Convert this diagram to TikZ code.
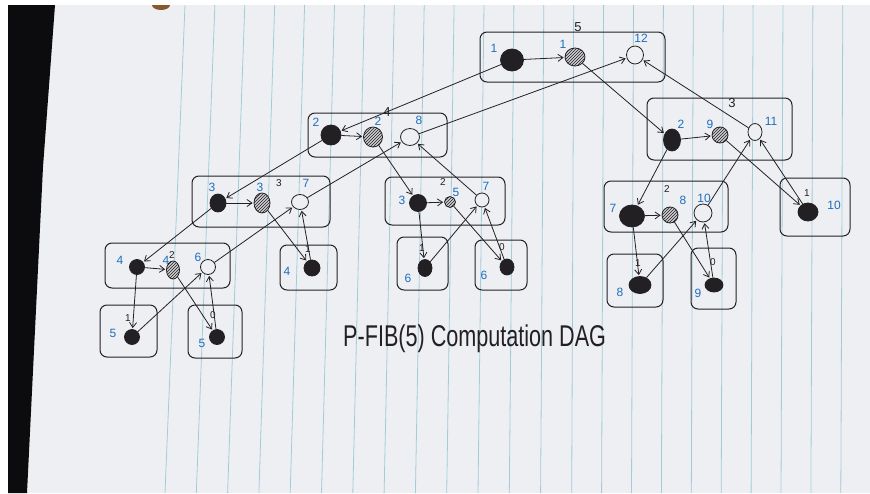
\documentclass[tikz,border=0pt]{standalone}
\usepackage{fontspec}
\newfontfamily\hand{Liberation Sans}
\usetikzlibrary{arrows.meta,patterns,shapes.geometric}
\definecolor{inkc}{RGB}{35,32,35}
\definecolor{bluec}{RGB}{30,110,190}
\definecolor{paper}{RGB}{238,239,243}
\definecolor{rulec}{RGB}{160,205,215}
\definecolor{hatbg}{RGB}{205,205,208}
\definecolor{deskc}{RGB}{12,12,14}
\tikzset{
  blk/.style={ellipse, inner sep=0pt, fill=inkc, draw=inkc, line width=0.8pt},
  hat/.style={ellipse, inner sep=0pt, draw=inkc, line width=0.8pt, preaction={fill=hatbg}, pattern=north east lines, pattern color=inkc},
  wht/.style={ellipse, inner sep=0pt, draw=inkc, line width=0.8pt, fill=paper},
  sz/.style 2 args={minimum width=#1pt, minimum height=#2pt},
  grp/.style={draw=inkc, line width=1pt, rounded corners=7pt},
  bnum/.style={text=bluec, font=\hand\fontsize{12}{12}\selectfont, inner sep=0pt},
  knum/.style={text=inkc, font=\hand\fontsize{10}{10}\selectfont, inner sep=0pt},
  lnum/.style={text=inkc, font=\hand\fontsize{13}{13}\selectfont, inner sep=0pt},
  arr/.style={draw=inkc, line width=0.8pt, -{Straight Barb[length=5pt,width=7pt]}, shorten >=1pt},
}
\begin{document}
\begin{tikzpicture}[x=1pt,y=-1pt]
\useasboundingbox (0,0) rectangle (870,493);
% paper and desk
\fill[white] (0,0) rectangle (870,493);
\fill[paper] (8,5) rectangle (870,493);
\fill[deskc] (8,5) -- (55,5) -- (43,167) -- (27,493) -- (8,493) -- cycle;
\fill[brown!70!black] (152,5) arc[start angle=180,end angle=360,x radius=9pt,y radius=5pt] -- cycle;
\foreach \k in {0,...,22}{
  \pgfmathsetmacro\xt{185+29.9*\k}
  \pgfmathsetmacro\xb{\xt+min(-2,-20+1.4*\k)}
  \draw[rulec, line width=0.8pt] (\xt,5) -- (\xb,493);
}
% group boxes
\draw[grp] (480,32) rectangle (665,82);
\draw[grp] (308,113) rectangle (447,157);
\draw[grp] (647,98) rectangle (792,160);
\draw[grp] (604,181) rectangle (728,232);
\draw[grp] (780,178) rectangle (850,236);
\draw[grp] (607,254) rectangle (663,307);
\draw[grp] (691,248) rectangle (736,309);
\draw[grp] (192,176) rectangle (330,227);
\draw[grp] (280,245) rectangle (337,290);
\draw[grp] (385,177) rectangle (505,225);
\draw[grp] (397,237) rectangle (448,290);
\draw[grp] (475,240) rectangle (527,290);
\draw[grp] (105,243) rectangle (230,288);
\draw[grp] (100,305) rectangle (157,357);
\draw[grp] (188,305) rectangle (242,358);
% strands
\node[blk,sz={23}{22}] (a1) at (512,60) {};
\node[hat,sz={20}{18}] (a2) at (575,57) {};
\node[wht,sz={17}{18}] (a3) at (635,55) {};
\node[blk,sz={20}{20}] (b1) at (331,135) {};
\node[hat,sz={19}{20}] (b2) at (373,137) {};
\node[wht,sz={19}{17}] (b3) at (410,137) {};
\node[blk,sz={17}{22}] (c1) at (672,140) {};
\node[hat,sz={16}{16}] (c2) at (720,135) {};
\node[wht,sz={14}{17}] (c3) at (755,132) {};
\node[blk,sz={25}{22}] (d1) at (632,216) {};
\node[hat,sz={16}{16}] (d2) at (670,215) {};
\node[wht,sz={18}{18}] (d3) at (703,213) {};
\node[blk,sz={20}{18}] (e) at (808,212) {};
\node[blk,sz={22}{17}] (f) at (640,285) {};
\node[blk,sz={18}{14}] (g) at (714,285) {};
\node[blk,sz={16}{18}] (h1) at (218,203) {};
\node[hat,sz={16}{20}] (h2) at (262,203) {};
\node[wht,sz={17}{15}] (h3) at (300,202) {};
\node[blk,sz={16}{16}] (i) at (312,268) {};
\node[blk,sz={17}{17}] (j1) at (418,203) {};
\node[hat,sz={11}{11}] (j2) at (450,202) {};
\node[wht,sz={14}{14}] (j3) at (482,200) {};
\node[blk,sz={14}{17}] (k) at (425,268) {};
\node[blk,sz={14}{16}] (l) at (507,267) {};
\node[blk,sz={15}{15}] (m1) at (137,267) {};
\node[hat,sz={13}{18}] (m2) at (173,270) {};
\node[wht,sz={15}{15}] (m3) at (208,267) {};
\node[blk,sz={15}{15}] (n) at (132,337) {};
\node[blk,sz={15}{15}] (o) at (217,337) {};
% edges
\draw[arr] (a1) -- (a2);
\draw[arr] (a1) -- (b1);
\draw[arr] (a2) -- (c1);
\draw[arr] (b3) -- (a3);
\draw[arr] (c3) -- (a3);
\draw[arr] (b1) -- (b2);
\draw[arr] (b1) -- (h1);
\draw[arr] (b2) -- (j1);
\draw[arr] (h3) -- (b3);
\draw[arr] (j3) -- (b3);
\draw[arr] (c1) -- (c2);
\draw[arr] (c1) -- (d1);
\draw[arr] (c2) -- (e);
\draw[arr] (d3) -- (c3);
\draw[arr] (e) -- (c3);
\draw[arr] (d1) -- (d2);
\draw[arr] (d1) -- (f);
\draw[arr] (d2) -- (g);
\draw[arr] (f) -- (d3);
\draw[arr] (g) -- (d3);
\draw[arr] (h1) -- (h2);
\draw[arr] (h1) -- (m1);
\draw[arr] (h2) -- (i);
\draw[arr] (m3) -- (h3);
\draw[arr] (i) -- (h3);
\draw[arr] (j1) -- (j2);
\draw[arr] (j1) -- (k);
\draw[arr] (j2) -- (l);
\draw[arr] (k) -- (j3);
\draw[arr] (l) -- (j3);
\draw[arr] (m1) -- (m2);
\draw[arr] (m1) -- (n);
\draw[arr] (m2) -- (o);
\draw[arr] (n) -- (m3);
\draw[arr] (o) -- (m3);
% blue numbers
\node[bnum] (ta1) at (494,48) {1};
\node[bnum] (ta2) at (563,44) {1};
\node[bnum] (ta3) at (641,38) {12};
\node[bnum] (tb1) at (316,122) {2};
\node[bnum] (tb2) at (378,121) {2};
\node[bnum] (tb3) at (419,120) {8};
\node[bnum] (tc1) at (681,124) {2};
\node[bnum] (tc2) at (710,124) {9};
\node[bnum] (tc3) at (771,121) {11};
\node[bnum] (td1) at (613,208) {7};
\node[bnum] (td2) at (683,200) {8};
\node[bnum] (td3) at (704,198) {10};
\node[bnum] (te) at (834,205) {10};
\node[bnum] (tf) at (620,292) {8};
\node[bnum] (tg) at (698,293) {9};
\node[bnum] (th1) at (212,187) {3};
\node[bnum] (th2) at (260,187) {3};
\node[bnum] (th3) at (306,183) {7};
\node[bnum] (ti) at (287,271) {4};
\node[bnum] (tj1) at (402,200) {3};
\node[bnum] (tj2) at (456,192) {5};
\node[bnum] (tj3) at (486,186) {7};
\node[bnum] (tk) at (408,278) {6};
\node[bnum] (tl) at (484,275) {6};
\node[bnum] (tm1) at (120,260) {4};
\node[bnum] (tm2) at (166,260) {4};
\node[bnum] (tm3) at (198,257) {6};
\node[bnum] (tn) at (113,333) {5};
\node[bnum] (to) at (202,343) {5};
% black counts
\node[lnum] (la) at (578,27) {5};
\node[lnum] (lb) at (387,112) {4};
\node[lnum] (lc) at (732,103) {3};
\node[knum] (ld) at (667,189) {2};
\node[knum] (le) at (807,193) {1};
\node[knum] (lf) at (638,263) {1};
\node[knum] (lg) at (713,262) {0};
\node[knum] (lh) at (279,183) {3};
\node[knum] (li) at (308,249) {1};
\node[knum] (lj) at (443,182) {2};
\node[knum] (lk) at (422,248) {1};
\node[knum] (ll) at (502,247) {0};
\node[knum] (lm) at (172,255) {2};
\node[knum] (ln) at (128,318) {1};
\node[knum] (lo) at (213,315) {0};
% caption
\node[anchor=base west, inner sep=0pt, text=inkc, font=\hand\fontsize{30}{30}\selectfont] (cap) at (343,346) {\scalebox{0.72}[1]{P-FIB(5) Computation DAG}};
\end{tikzpicture}
\end{document}
